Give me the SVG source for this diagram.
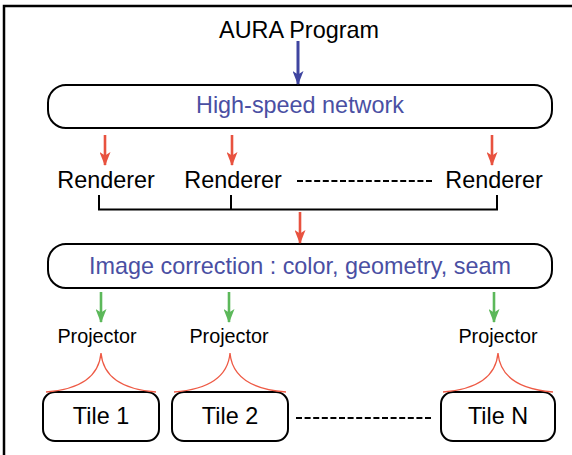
<svg xmlns="http://www.w3.org/2000/svg" width="572" height="455" viewBox="0 0 572 455">
<style>
text{font-family:"Liberation Sans",Arial,sans-serif;text-anchor:middle}
.lbl{font-size:23.4px;fill:#000}
.blue{font-size:23.4px;fill:#4a4fa3}
.proj{font-size:19.8px;fill:#000}
.box{fill:#fff;stroke:#000;stroke-width:2}
.ln{fill:none;stroke:#000;stroke-width:2}
.dash{fill:none;stroke:#000;stroke-width:2;stroke-dasharray:6 2.6}
.ab{stroke:#3f45a0;stroke-width:3;fill:none}
.ar{stroke:#e8523f;stroke-width:2.6;fill:none}
.ag{stroke:#5cb85a;stroke-width:2.6;fill:none}
.curve{fill:none;stroke:#ee5a45;stroke-width:1.3}
</style>
<defs>
<marker id="hb" markerUnits="userSpaceOnUse" markerWidth="11" markerHeight="14" refX="5.5" refY="13" orient="0" viewBox="0 0 11 14"><path d="M0,0 L5.5,3.5 L11,0 L5.5,14 Z" fill="#3f45a0"/></marker>
<marker id="hr" markerUnits="userSpaceOnUse" markerWidth="11" markerHeight="14" refX="5.5" refY="13" orient="0" viewBox="0 0 11 14"><path d="M0,0 L5.5,3.5 L11,0 L5.5,14 Z" fill="#e8523f"/></marker>
<marker id="hg" markerUnits="userSpaceOnUse" markerWidth="11" markerHeight="14" refX="5.5" refY="13" orient="0" viewBox="0 0 11 14"><path d="M0,0 L5.5,3.5 L11,0 L5.5,14 Z" fill="#5cb85a"/></marker>
</defs>
<rect width="572" height="455" fill="#fff"/>
<path d="M4,455 V6 H572" fill="none" stroke="#000" stroke-width="2.5"/>

<g id="aura"><text class="lbl" x="299" y="38">AURA Program</text></g>

<g id="network">
<rect class="box" x="48" y="85" width="504" height="43" rx="18"/>
<text class="blue" x="300" y="113">High-speed network</text>
</g>

<g id="renderer1"><text class="lbl" x="106" y="188">Renderer</text></g>
<g id="renderer2"><text class="lbl" x="233" y="188">Renderer</text></g>
<g id="renderer3"><text class="lbl" x="494" y="188">Renderer</text></g>

<g id="correction">
<rect class="box" x="48" y="244" width="504" height="44" rx="18"/>
<text class="blue" x="300" y="274">Image correction : color, geometry, seam</text>
</g>

<g id="projector1"><text class="proj" x="97" y="343">Projector</text></g>
<g id="projector2"><text class="proj" x="229" y="343">Projector</text></g>
<g id="projector3"><text class="proj" x="498" y="343">Projector</text></g>

<g id="tile1"><rect class="box" x="43" y="392" width="116" height="49" rx="12"/><text class="lbl" x="101" y="424">Tile 1</text></g>
<g id="tile2"><rect class="box" x="172" y="392" width="116" height="49" rx="12"/><text class="lbl" x="230" y="424">Tile 2</text></g>
<g id="tileN"><rect class="box" x="441" y="392" width="114" height="49" rx="12"/><text class="lbl" x="498" y="424">Tile N</text></g>

<g id="connectors">
<line class="ab" x1="298" y1="41" x2="298" y2="84" marker-end="url(#hb)"/>
<line class="ar" x1="105" y1="135" x2="105" y2="165" marker-end="url(#hr)"/>
<line class="ar" x1="232" y1="135" x2="232" y2="165" marker-end="url(#hr)"/>
<line class="ar" x1="492" y1="135" x2="492" y2="165" marker-end="url(#hr)"/>
<line class="dash" x1="297" y1="181" x2="434" y2="181"/>
<path class="ln" d="M99,195 V209.5 H497 V195 M231,195 V209.5"/>
<line class="ar" x1="300" y1="212" x2="300" y2="243" marker-end="url(#hr)"/>
<line class="ag" x1="101" y1="292" x2="101" y2="322" marker-end="url(#hg)"/>
<line class="ag" x1="229" y1="292" x2="229" y2="322" marker-end="url(#hg)"/>
<line class="ag" x1="494" y1="292" x2="494" y2="322" marker-end="url(#hg)"/>
<path class="curve" d="M101,353 Q104,388 156,392 M101,353 Q98,388 46,392"/>
<path class="curve" d="M230,353 Q233,388 286,392 M230,353 Q227,388 174,392"/>
<path class="curve" d="M498,353 Q501,388 553,392 M498,353 Q495,388 443,392"/>
<line class="dash" x1="296" y1="418" x2="433" y2="418"/>
</g>
</svg>
